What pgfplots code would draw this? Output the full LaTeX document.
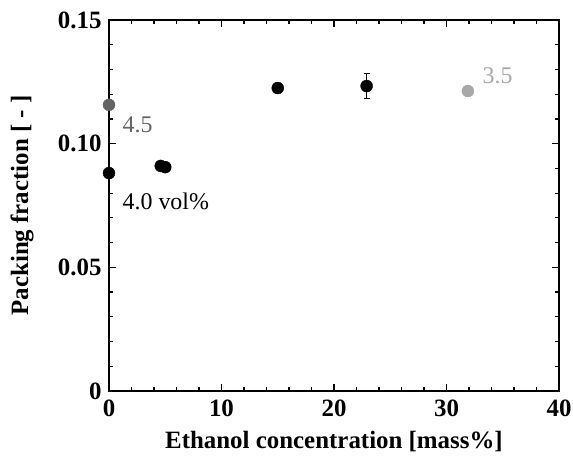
\documentclass[border=0pt]{standalone}
\usepackage{fontspec}
\setmainfont{Liberation Serif}
\usepackage{pgfplots}
\pgfplotsset{compat=1.18}
\definecolor{midgray}{RGB}{100,100,100}
\definecolor{lightgray2}{RGB}{168,168,168}
\begin{document}
\begin{tikzpicture}
  \begin{axis}[
    scale only axis,
    width=450bp, height=371bp,
    xmin=0, xmax=40, ymin=0, ymax=0.15,
    xtick={0,10,20,30,40},
    xticklabels={0,10,20,30,40},
    ytick={0,0.05,0.10,0.15},
    yticklabels={0,0.05,0.10,0.15},
    minor x tick num=4, minor y tick num=4,
    tick align=inside,
    major tick length=7bp, minor tick length=4bp,
    axis line style={line width=1.6bp},
    every tick/.style={black, line width=1.2bp},
    /pgf/number format/assume math mode=true,
    tick label style={font=\fontsize{25}{25}\selectfont\bfseries},
    xticklabel style={yshift=-5bp},
    yticklabel style={xshift=-4bp},
    label style={font=\fontsize{25}{25}\selectfont\bfseries},
    xlabel={Ethanol concentration [mass\%]},
    ylabel={Packing fraction [ - ]},
    xlabel style={at={(axis description cs:0.5,-0.135)}, anchor=center},
    ylabel style={at={(axis description cs:-0.193,0.5)}, anchor=center},
    clip=false,
  ]
    \addplot[only marks, mark=*, mark size=6bp, black] coordinates {
      (0,0.0881) (4.6,0.0910) (5.0,0.0905) (15,0.1225)
    };
    \addplot[only marks, mark=*, mark size=6bp, black,
      error bars/.cd, y dir=both, y explicit,
      error bar style={line width=1bp},
      error mark options={rotate=90, mark size=3bp, line width=1bp}]
      coordinates {(22.9,0.1233) +- (0,0.0052)};
    \addplot[only marks, mark=*, mark size=6bp, midgray] coordinates {(0,0.1157)};
    \addplot[only marks, mark=*, mark size=6bp, lightgray2] coordinates {(31.9,0.1213)};
    \node[anchor=west, inner sep=0pt, text=midgray, font=\fontsize{24}{24}\selectfont] at (axis cs:1.2,0.1076) {4.5};
    \node[anchor=west, inner sep=0pt, text=black, font=\fontsize{24}{24}\selectfont] at (axis cs:1.2,0.0766) {4.0 vol\%};
    \node[anchor=west, inner sep=0pt, text=lightgray2, font=\fontsize{24}{24}\selectfont] at (axis cs:33.2,0.1274) {3.5};
  \end{axis}
  \pgfresetboundingbox
  \path (-109bp,-75bp) rectangle (464bp,391bp);
\end{tikzpicture}
\end{document}
